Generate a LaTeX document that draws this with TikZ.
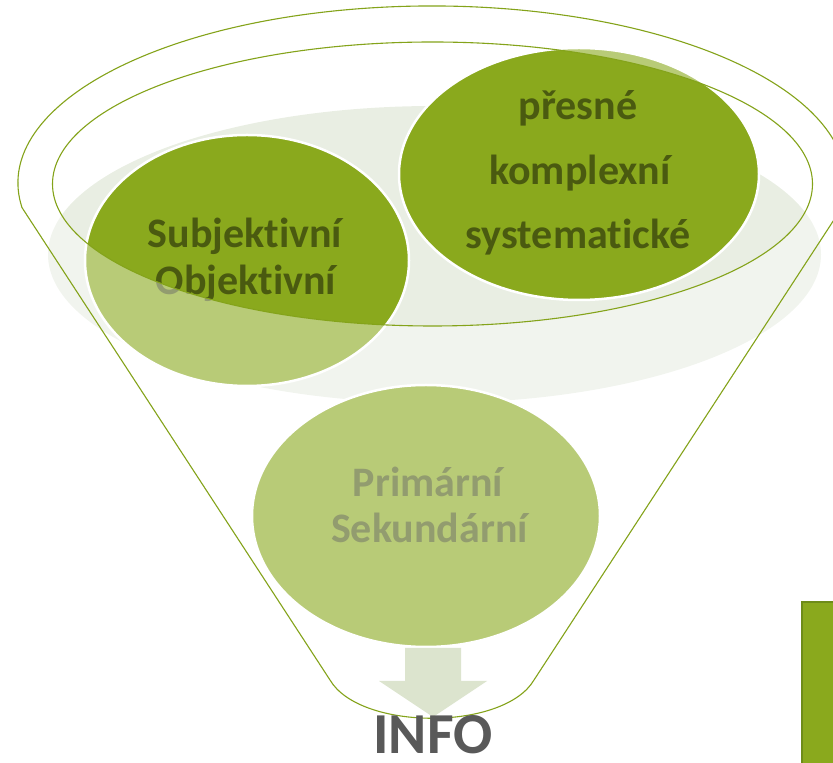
\documentclass[tikz,border=0pt]{standalone}
\usepackage{fontspec}
\setmainfont{Carlito}[Ligatures=NoCommon]
\usetikzlibrary{shapes.geometric}
\definecolor{zelena}{HTML}{8AA91D}
\definecolor{linka}{HTML}{84A31A}
\definecolor{pozadi}{HTML}{E9EEE3}
\definecolor{pismo}{HTML}{4A5A10}
\definecolor{sipka}{HTML}{DCE4CE}
\definecolor{seda}{HTML}{595959}
\definecolor{okraj}{HTML}{6E8C19}

\begin{document}
\begin{tikzpicture}[x=1pt,y=1pt,
    every node/.style={font=\bfseries\fontsize{42}{50}\selectfont,inner sep=0pt},
    kruh/.style={ellipse,fill=zelena,draw=white,line width=2.5pt},
    popis/.style={anchor=base,text=pismo},
    obrys/.style={draw=linka,line width=1.1pt}
  ]
    \useasboundingbox (0,0) rectangle (833,763);
    % pozadi a kruhy
    \fill[pozadi] (434.5,508.5) ellipse [x radius=386.5pt,y radius=148.5pt];
    \node[kruh,minimum width=324pt,minimum height=251pt] (leva) at (247,502.5) {};
    \node[kruh,minimum width=360pt,minimum height=252pt] (prava) at (579,589) {};
    \node[kruh,minimum width=348pt,minimum height=262pt] (dolni) at (426,247) {};
    \node[popis] (subj) at (245,515) {Subjektivní};
    \node[popis] (obj) at (246,468) {Objektivní};
    \node[popis] (presne) at (578,643) {přesné};
    \node[popis] (kompl) at (580,578) {komplexní};
    \node[popis] (syst) at (578,514) {systematické};
    \node[popis] (prim) at (428,266) {Primární};
    \node[popis] (sek) at (429.5,220) {Sekundární};
    % sklo trychtyre
    \fill[white,fill opacity=0.4,even odd rule] (-20,-20) rectangle (853,783)
      (432.5,579) ellipse [x radius=380pt,y radius=142pt];
    \fill[sipka] (405,115) -- (461,115) -- (461,82) -- (487,82) -- (433,46)
      -- (379,82) -- (405,82) -- cycle;
    \draw[obrys] (432.5,579) ellipse [x radius=380pt,y radius=142pt];
    \draw[obrys] (22,555.4) arc [start angle=188,end angle=-8,x radius=414pt,y radius=177pt]
      -- (534,83) .. controls (504,32) and (360,32) .. (330,83) -- cycle;
    \node[anchor=base,text=seda,font=\bfseries\fontsize{58}{62}\selectfont] (info) at (433,9) {INFO};
    \filldraw[fill=zelena,draw=okraj,line width=2pt] (802,-5) rectangle (845,161);
\end{tikzpicture}
\end{document}
